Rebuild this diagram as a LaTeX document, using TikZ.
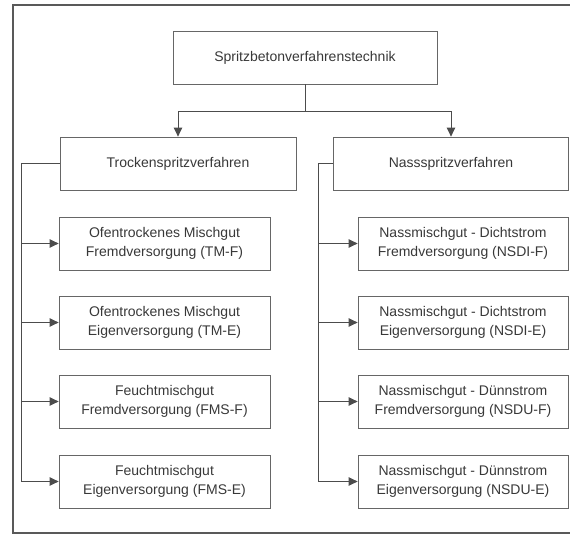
\documentclass[tikz,border=0pt]{standalone}
\usepackage{fontspec}
\setmainfont{Liberation Sans}
\usetikzlibrary{arrows.meta}
\begin{document}
\begin{tikzpicture}[x=1pt,y=1pt,
  box/.style={draw=black!60, line width=0.8pt, rectangle, inner sep=0pt, text=black!78,
    font=\fontsize{14}{18.5}\selectfont, align=center},
  head/.style={box, minimum height=53pt},
  sub/.style={box, minimum height=53pt},
  conn/.style={draw=black!70, line width=0.9pt},
  arr/.style={conn, -{Triangle[length=9pt,width=8.5pt]}},
  frame/.style={draw=black!65, line width=1.4pt}]
\useasboundingbox (0,0) rectangle (570,-534);
\draw[frame] (570,-5) -- (13,-5) -- (13,-533) -- (570,-533);

\node[head, minimum width=264pt] (top) at (305,-57.5) {Spritzbetonverfahrenstechnik};
\node[head, minimum width=236pt] (tro) at (178,-163.5) {Trockenspritzverfahren};
\node[head, minimum width=235pt] (nas) at (451,-163.5) {Nassspritzverfahren};

\node[sub, minimum width=211pt] (tmf) at (164.5,-243.5) {Ofentrockenes Mischgut\\Fremdversorgung (TM-F)};
\node[sub, minimum width=211pt] (tme) at (164.5,-322.5) {Ofentrockenes Mischgut\\Eigenversorgung (TM-E)};
\node[sub, minimum width=211pt] (fmsf) at (164.5,-401.5) {Feuchtmischgut\\Fremdversorgung (FMS-F)};
\node[sub, minimum width=211pt] (fmse) at (164.5,-481.5) {Feuchtmischgut\\Eigenversorgung (FMS-E)};

\node[sub, minimum width=210pt] (ndif) at (463,-243.5) {Nassmischgut - Dichtstrom\\Fremdversorgung (NSDI-F)};
\node[sub, minimum width=210pt] (ndie) at (463,-322.5) {Nassmischgut - Dichtstrom\\Eigenversorgung (NSDI-E)};
\node[sub, minimum width=210pt] (nduf) at (463,-401.5) {Nassmischgut - Dünnstrom\\Fremdversorgung (NSDU-F)};
\node[sub, minimum width=210pt] (ndue) at (463,-481.5) {Nassmischgut - Dünnstrom\\Eigenversorgung (NSDU-E)};

\coordinate (j) at (305,-111);
\draw[conn] (top.south) -- (j);
\draw[arr] (j) -| (tro.north);
\draw[arr] (j) -| (nas.north);

\coordinate (lt) at (21,-163.5);
\coordinate (lb) at (21,-481.5);
\draw[conn] (tro.west) -- (lt) -- (lb);
\draw[arr] (lt |- tmf.west) -- (tmf.west);
\draw[arr] (lt |- tme.west) -- (tme.west);
\draw[arr] (lt |- fmsf.west) -- (fmsf.west);
\draw[arr] (lb) -- (fmse.west);

\coordinate (rt) at (318,-163.5);
\coordinate (rb) at (318,-481.5);
\draw[conn] (nas.west) -- (rt) -- (rb);
\draw[arr] (rt |- ndif.west) -- (ndif.west);
\draw[arr] (rt |- ndie.west) -- (ndie.west);
\draw[arr] (rt |- nduf.west) -- (nduf.west);
\draw[arr] (rb) -- (ndue.west);
\end{tikzpicture}
\end{document}
